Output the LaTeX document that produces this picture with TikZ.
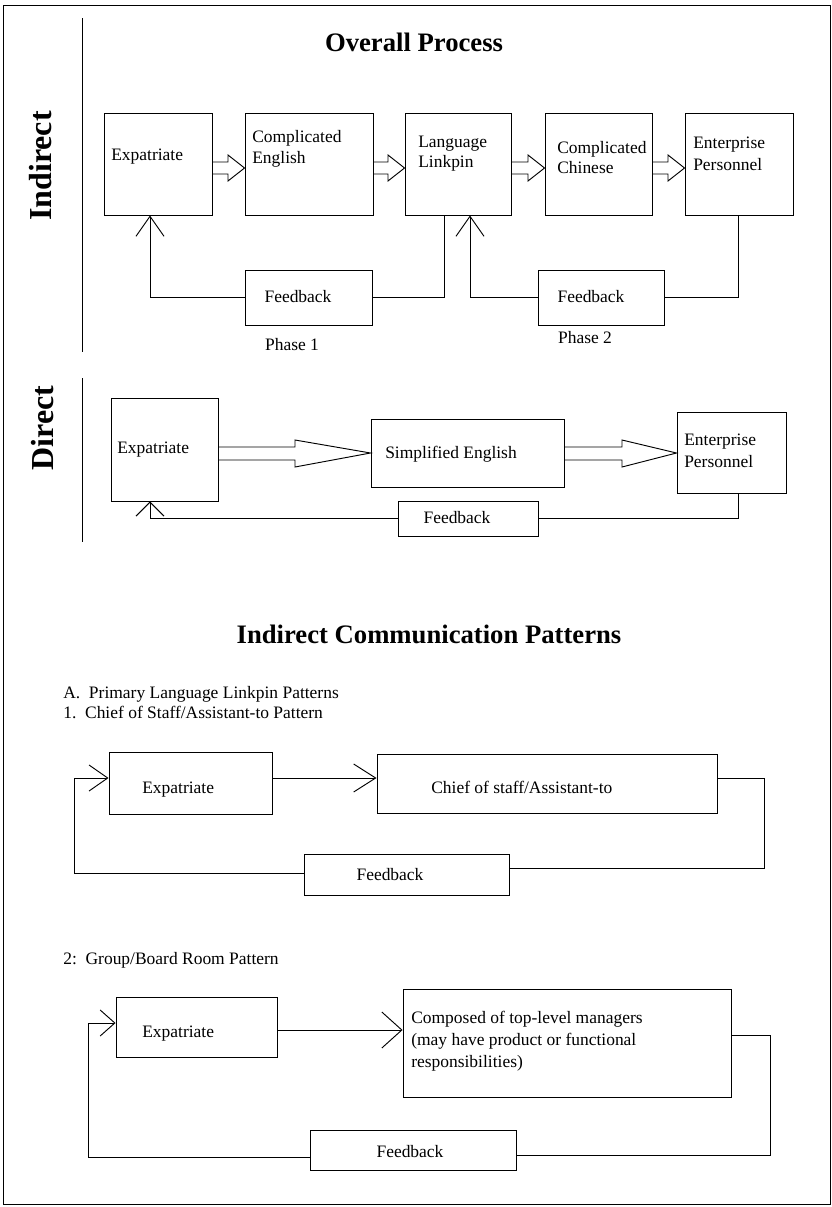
\documentclass[tikz,border=0pt]{standalone}
\usepackage{fontspec}
\setmainfont{Liberation Serif}
\usetikzlibrary{arrows.meta,fit}
\begin{document}
\begin{tikzpicture}[x=0.75pt,y=-0.75pt,
  line/.style={draw=black, line width=0.7pt},
  box/.style={draw=black, line width=0.7pt, inner sep=0pt},
  txt/.style={font=\fontsize{13.1}{15.7}\selectfont, inner sep=0pt, anchor=base west},
  ctxt/.style={txt, anchor=base},
  heading/.style={font=\bfseries\fontsize{20}{24}\selectfont, inner sep=0pt, anchor=base},
  side/.style={font=\bfseries\fontsize{24}{28}\selectfont, inner sep=0pt, rotate=90},
  blk/.style={draw=black, line width=0.7pt, line join=miter},
  barbA/.style={-{Straight Barb[length=15pt,width=21pt]}},
  barbB/.style={-{Straight Barb[length=10.5pt,width=21pt]}},
  barbC/.style={-{Straight Barb[length=16.5pt,width=21pt]}},
  barbD/.style={-{Straight Barb[length=14pt,width=19.5pt]}},
  barbE/.style={-{Straight Barb[length=15pt,width=27pt]}},
  barbF/.style={-{Straight Barb[length=11pt,width=19.5pt]}},
]
\useasboundingbox (0,0) rectangle (832,1207);

% outer frame and section rules
\draw[line] (3,5) rectangle (830,1204);
\draw[line] (82,18) -- (82,352);
\draw[line] (82,378) -- (82,542);
\node[side] (lab-ind) at (41,166) {Indirect};
\node[side] (lab-dir) at (43,428) {Direct};

% ---------------- Overall process ----------------
\node[heading] (t-overall) at (414,51) {Overall Process};

\node[box, fit={(104,113) (212,215)}] (ind-exp) {};
\node[box, fit={(245,113) (373,215)}] (ind-ce) {};
\node[box, fit={(405,113) (511,215)}] (ind-ll) {};
\node[box, fit={(545,113) (652,215)}] (ind-cc) {};
\node[box, fit={(685,113) (793,215)}] (ind-ep) {};

\node[txt] (x-exp) at (111,160) {Expatriate};
\node[txt] (x-ce1) at (252,142) {Complicated};
\node[txt] (x-ce2) at (252,163) {English};
\node[txt] (x-ll1) at (418,147) {Language};
\node[txt] (x-ll2) at (418,167) {Linkpin};
\node[txt] (x-cc1) at (557,153) {Complicated};
\node[txt] (x-cc2) at (557,173) {Chinese};
\node[txt] (x-ep1) at (693,148) {Enterprise};
\node[txt] (x-ep2) at (693,170) {Personnel};

% block arrows of the indirect chain
\draw[blk] (ind-exp.east |- 0,162) -- (228,162) -- (228,155) -- (ind-ce.west |- 0,168)
  -- (228,181) -- (228,174) -- (ind-exp.east |- 0,174);
\draw[blk] (ind-ce.east |- 0,162) -- (388,162) -- (388,155) -- (ind-ll.west |- 0,168)
  -- (388,181) -- (388,174) -- (ind-ce.east |- 0,174);
\draw[blk] (ind-ll.east |- 0,162) -- (528,162) -- (528,155) -- (ind-cc.west |- 0,168)
  -- (528,181) -- (528,174) -- (ind-ll.east |- 0,174);
\draw[blk] (ind-cc.east |- 0,162) -- (668,162) -- (668,155) -- (ind-ep.west |- 0,168)
  -- (668,181) -- (668,174) -- (ind-cc.east |- 0,174);

% feedback loops
\node[box, fit={(245,270) (372,325)}] (fb1) {};
\node[ctxt] (x-fb1) at (298,302) {Feedback};
\node[box, fit={(538,270) (664,325)}] (fb2) {};
\node[ctxt] (x-fb2) at (591,302) {Feedback};

\draw[line] (ind-ll.south -| 444,0) |- (fb1.east);
\draw[line, barbA] (fb1.west) -| (ind-exp.south -| 150,0);
\draw[line] (ind-ep.south -| 738,0) |- (fb2.east);
\draw[line, barbA] (fb2.west) -| (ind-ll.south -| 470,0);

\node[ctxt] (ph1) at (292,350) {Phase 1};
\node[ctxt] (ph2) at (585,343) {Phase 2};

% ---------------- Direct ----------------
\node[box, fit={(111,398) (218,501)}] (dir-exp) {};
\node[box, fit={(371,419) (564,487)}] (dir-se) {};
\node[box, fit={(677,412) (786,493)}] (dir-ep) {};

\node[txt] (d-exp) at (117,453) {Expatriate};
\node[txt] (d-se) at (385,458) {Simplified English};
\node[txt] (d-ep1) at (684,445) {Enterprise};
\node[txt] (d-ep2) at (684,467) {Personnel};

\draw[blk] (dir-exp.east |- 0,447) -- (295,447) -- (295,440) -- (dir-se.west |- 0,453)
  -- (295,467) -- (295,460) -- (dir-exp.east |- 0,460);
\draw[blk] (dir-se.east |- 0,447) -- (622,447) -- (622,440) -- (dir-ep.west |- 0,453)
  -- (622,467) -- (622,460) -- (dir-se.east |- 0,460);

\node[box, fit={(398,501) (538,536)}] (fbd) {};
\node[ctxt] (x-fbd) at (457,523) {Feedback};
\draw[line] (dir-ep.south -| 738,0) |- (fbd.east);
\draw[line, barbB] (fbd.west) -| (dir-exp.south -| 150,0);

% ---------------- Indirect communication patterns ----------------
\node[heading] (t-icp) at (429,643) {Indirect Communication Patterns};
\node[txt] (h-a) at (63,698) {A.\ \ Primary Language Linkpin Patterns};
\node[txt] (h-1) at (63,718) {1.\ \ Chief of Staff/Assistant-to Pattern};

% pattern 1
\node[box, fit={(109,752) (272,814)}] (p1-exp) {};
\node[box, fit={(377,754) (717,813)}] (p1-cs) {};
\node[txt] (p1-t1) at (142,793) {Expatriate};
\node[txt] (p1-t2) at (431,793) {Chief of staff/Assistant-to};
\draw[line, barbC] (p1-exp.east |- 0,778) -- (p1-cs.west |- 0,778);

\node[box, fit={(304,854) (509,895)}] (fbp1) {};
\node[ctxt] (p1-fb) at (390,880) {Feedback};
\draw[line] (p1-cs.east |- 0,778) -| (764,868) -- (fbp1.east |- 0,868);
\draw[line, barbD] (fbp1.west |- 0,873) -| (74,778) -- (p1-exp.west |- 0,778);

% pattern 2
\node[txt] (h-2) at (63,964) {2:\ \ Group/Board Room Pattern};
\node[box, fit={(116,997) (277,1057)}] (p2-exp) {};
\node[box, fit={(403,989) (731,1097)}] (p2-cm) {};
\node[txt] (p2-t1) at (142,1037) {Expatriate};
\node[txt] (p2-t2) at (411,1023) {Composed of top-level managers};
\node[txt] (p2-t3) at (411,1045) {(may have product or functional};
\node[txt] (p2-t4) at (411,1067) {responsibilities)};
\draw[line, barbE] (p2-exp.east |- 0,1030) -- (p2-cm.west |- 0,1030);

\node[box, fit={(310,1130) (516,1170)}] (fbp2) {};
\node[ctxt] (p2-fb) at (410,1157) {Feedback};
\draw[line] (p2-cm.east |- 0,1035) -| (770,1155) -- (fbp2.east |- 0,1155);
\draw[line, barbF] (fbp2.west |- 0,1157) -| (88,1023) -- (p2-exp.west |- 0,1023);
\end{tikzpicture}
\end{document}
